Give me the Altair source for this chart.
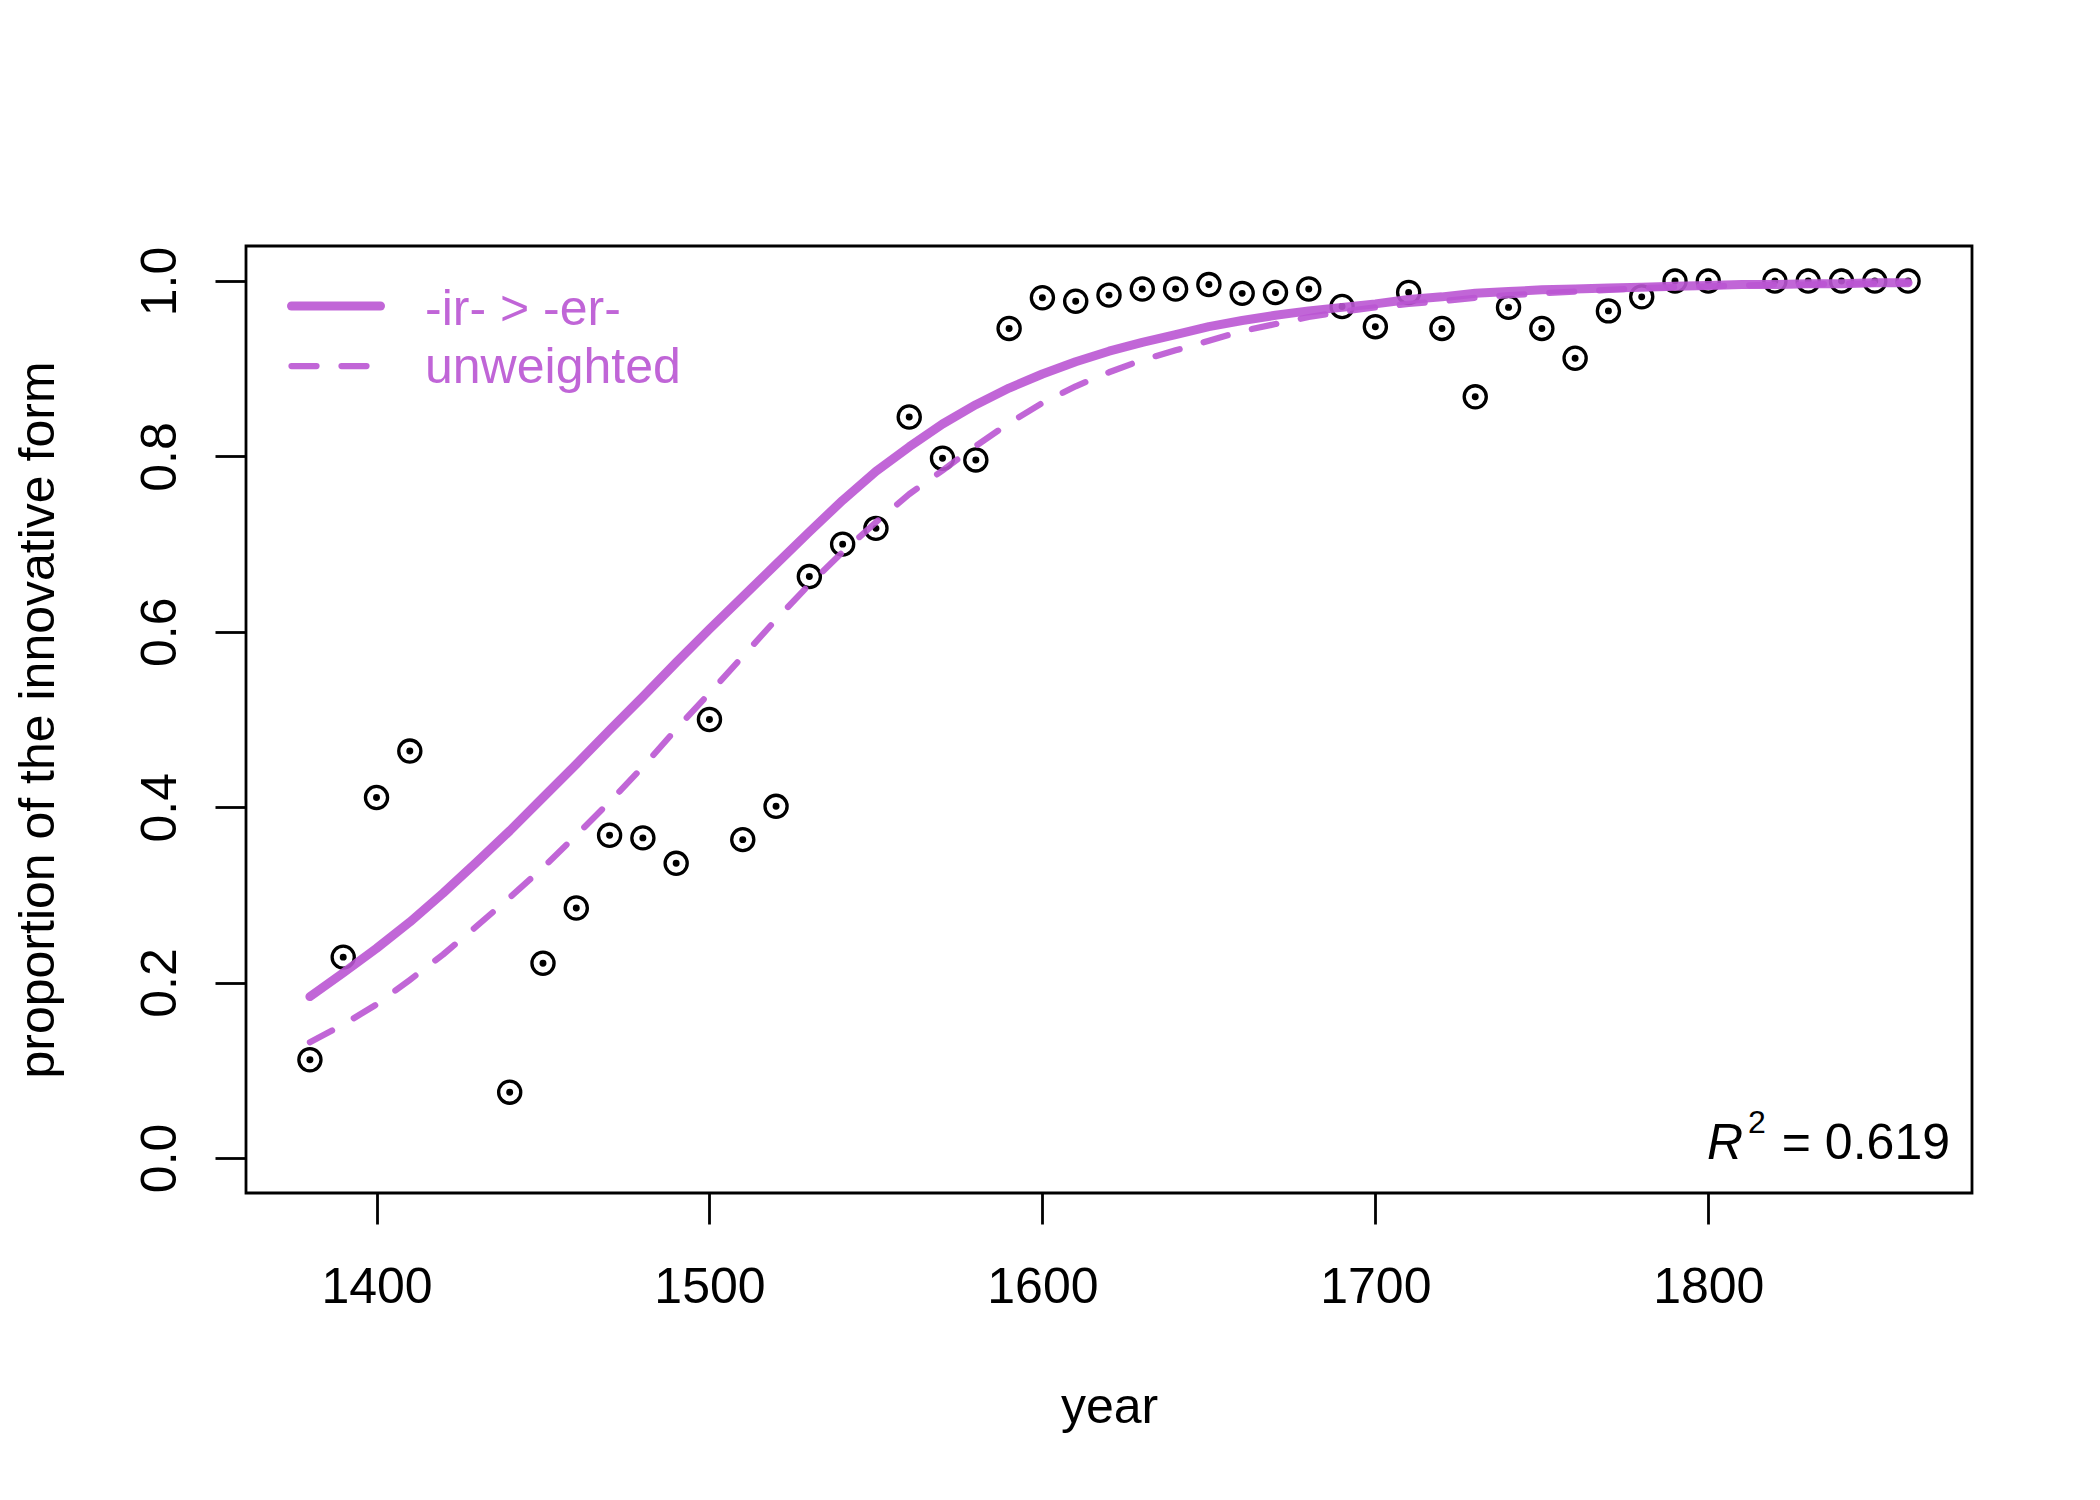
import altair as alt
import pandas as pd

# ---- observed proportions ----
obs_years = [1380, 1390, 1400, 1410, 1440, 1450, 1460, 1470, 1480, 1490,
             1500, 1510, 1520, 1530, 1540, 1550, 1560, 1570, 1580, 1590,
             1600, 1610, 1620, 1630, 1640, 1650, 1660, 1670, 1680, 1690,
             1700, 1710, 1720, 1730, 1740, 1750, 1760, 1770, 1780, 1790,
             1800, 1820, 1830, 1840, 1850, 1860]
obs_props = [0.112, 0.229, 0.411, 0.464, 0.075, 0.222, 0.285, 0.368, 0.365, 0.336,
             0.500, 0.363, 0.401, 0.663, 0.700, 0.718, 0.845, 0.798, 0.796, 0.946,
             0.981, 0.977, 0.984, 0.991, 0.991, 0.996, 0.986, 0.987, 0.991, 0.971,
             0.948, 0.987, 0.946, 0.868, 0.970, 0.946, 0.912, 0.966, 0.982, 1.000,
             1.000, 1.000, 1.000, 1.000, 1.000, 1.000]

# ---- fitted curves ----
curve_years = [1380, 1390, 1400, 1410, 1420, 1430, 1440, 1450, 1460, 1470,
               1480, 1490, 1500, 1510, 1520, 1530, 1540, 1550, 1560, 1570,
               1580, 1590, 1600, 1610, 1620, 1630, 1640, 1650, 1660, 1670,
               1680, 1690, 1700, 1710, 1720, 1730, 1740, 1750, 1760, 1770,
               1780, 1790, 1800, 1810, 1820, 1830, 1840, 1850, 1860]
weighted_fit = [0.184, 0.211, 0.239, 0.269, 0.302, 0.337, 0.373, 0.411, 0.449, 0.488,
                0.526, 0.565, 0.603, 0.640, 0.677, 0.714, 0.750, 0.783, 0.811, 0.837,
                0.859, 0.878, 0.894, 0.908, 0.920, 0.930, 0.939, 0.948, 0.955, 0.961,
                0.966, 0.970, 0.974, 0.979, 0.982, 0.986, 0.988, 0.990, 0.991, 0.992,
                0.993, 0.994, 0.995, 0.996, 0.996, 0.997, 0.997, 0.998, 0.998]
unweighted_fit = [0.132, 0.152, 0.175, 0.203, 0.232, 0.264, 0.297, 0.331, 0.368, 0.406,
                  0.446, 0.489, 0.530, 0.572, 0.614, 0.654, 0.691, 0.725, 0.757, 0.784,
                  0.812, 0.838, 0.861, 0.880, 0.896, 0.910, 0.921, 0.932, 0.943, 0.951,
                  0.959, 0.965, 0.970, 0.974, 0.977, 0.981, 0.984, 0.986, 0.988, 0.990,
                  0.992, 0.993, 0.994, 0.995, 0.996, 0.996, 0.997, 0.997, 0.998]

series_names = ["-ir- > -er-", "unweighted"]
r2_text = "0.619"

x_ticks = [1400, 1500, 1600, 1700, 1800]
y_ticks = [0.0, 0.2, 0.4, 0.6, 0.8, 1.0]

PURPLE = "#BA55D3"
FONT = "Liberation Sans"
W, H = 1726, 947

obs_df = pd.DataFrame({"year": obs_years, "prop": obs_props})
fit_df = pd.DataFrame({"year": curve_years, "w": weighted_fit, "u": unweighted_fit})

xscale = alt.Scale(domain=[1360.8, 1879.2], nice=False, zero=False)
yscale = alt.Scale(domain=[-0.04, 1.04], nice=False, zero=False)

xaxis = alt.Axis(values=x_ticks, format="d", title="year", labelPadding=38,
                 labelBaseline="top", titleBaseline="alphabetic",
                 titleX=W / 2, titleY=229, titleAlign="center")
yaxis = alt.Axis(values=y_ticks, format=".1f", title="proportion of the innovative form",
                 labelAngle=270, labelAlign="center", labelBaseline="alphabetic",
                 labelPadding=40, titleAngle=270, titleBaseline="alphabetic",
                 titleAlign="center", titleX=-193, titleY=H / 2)

base = alt.Chart(obs_df)

rings = base.mark_point(shape="circle", filled=False, size=490, strokeWidth=3.3,
                        color="black", opacity=1).encode(
    x=alt.X("year:Q", scale=xscale, axis=xaxis),
    y=alt.Y("prop:Q", scale=yscale, axis=yaxis),
)
dots = base.mark_point(shape="circle", filled=True, size=48, color="black",
                       opacity=1, strokeWidth=0).encode(
    x=alt.X("year:Q", scale=xscale),
    y=alt.Y("prop:Q", scale=yscale),
)

dashed = alt.Chart(fit_df).mark_line(color=PURPLE, opacity=0.9, strokeWidth=6.25,
                                     strokeDash=[25, 25], strokeCap="round",
                                     strokeJoin="round", clip=True).encode(
    x=alt.X("year:Q", scale=xscale),
    y=alt.Y("u:Q", scale=yscale),
)
solid = alt.Chart(fit_df).mark_line(color=PURPLE, opacity=0.9, strokeWidth=9,
                                    strokeCap="round", strokeJoin="round",
                                    clip=True).encode(
    x=alt.X("year:Q", scale=xscale),
    y=alt.Y("w:Q", scale=yscale),
)

one = alt.Data(values=[{"k": 1}])

leg_solid = alt.Chart(one).mark_rule(color=PURPLE, opacity=0.9, strokeWidth=9,
                                     strokeCap="round").encode(
    x=alt.value(45.5), x2=alt.value(134.5), y=alt.value(60))
leg_dash = alt.Chart(one).mark_rule(color=PURPLE, opacity=0.9, strokeWidth=6.25,
                                    strokeCap="round", strokeDash=[25, 25]).encode(
    x=alt.value(45.5), x2=alt.value(134.5), y=alt.value(120))
leg_t1 = alt.Chart(one).mark_text(text=series_names[0], font=FONT, fontSize=50,
                                  color=PURPLE, opacity=0.9, align="left",
                                  baseline="alphabetic").encode(
    x=alt.value(179), y=alt.value(78.6))
leg_t2 = alt.Chart(one).mark_text(text=series_names[1], font=FONT, fontSize=50,
                                  color=PURPLE, opacity=0.9, align="left",
                                  baseline="alphabetic").encode(
    x=alt.value(179), y=alt.value(137.4))

r_txt = alt.Chart(one).mark_text(text="R", font=FONT, fontSize=50, fontStyle="italic",
                                 color="black", align="left",
                                 baseline="alphabetic").encode(
    x=alt.value(1461), y=alt.value(913))
sup_txt = alt.Chart(one).mark_text(text="2", font=FONT, fontSize=32, color="black",
                                   align="left", baseline="alphabetic").encode(
    x=alt.value(1502), y=alt.value(887))
val_txt = alt.Chart(one).mark_text(text="= " + r2_text, font=FONT, fontSize=50,
                                   color="black", align="right",
                                   baseline="alphabetic").encode(
    x=alt.value(1704), y=alt.value(913))

chart = alt.layer(
    rings, dots, dashed, solid, leg_solid, leg_dash, leg_t1, leg_t2,
    r_txt, sup_txt, val_txt
).properties(
    width=W, height=H,
    autosize=alt.AutoSizeParams(type="none"),
    padding={"left": 238, "top": 238, "right": 120, "bottom": 290},
    background="white",
).configure_view(
    stroke="black", strokeWidth=2.8, fill="white"
).configure_axis(
    domain=False, grid=False, ticks=True, tickColor="black", tickWidth=2.8,
    tickSize=31, labelFont=FONT, labelFontSize=50, labelColor="black",
    titleFont=FONT, titleFontSize=50, titleFontWeight="normal", titleColor="black",
    labelOverlap=False, labelFlush=False
)

chart.save("out.html", embed_options={"renderer": "svg", "actions": False})
